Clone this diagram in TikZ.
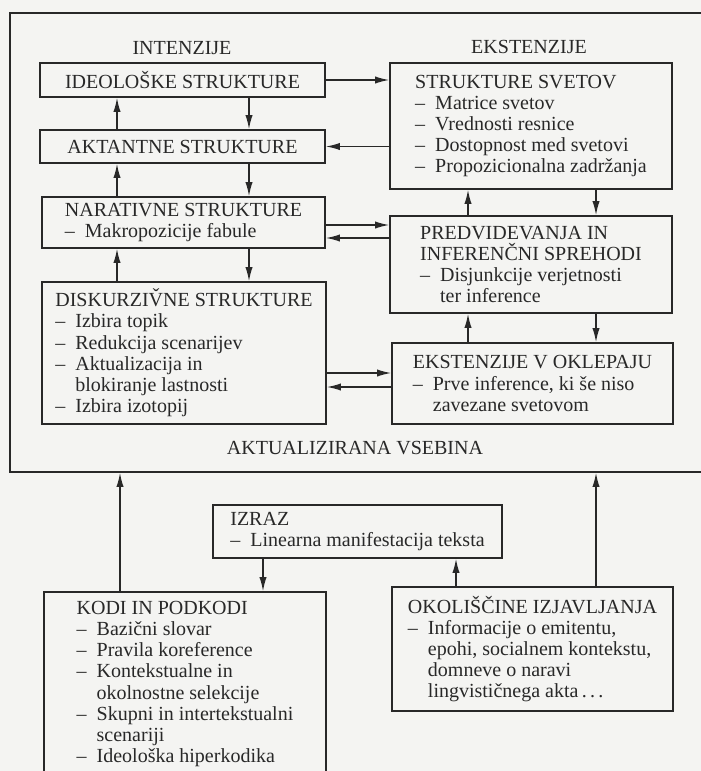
\documentclass[tikz,border=0pt]{standalone}
\usepackage{fontspec}
\setmainfont{Liberation Serif}
\usepackage{tikz}
\usetikzlibrary{arrows.meta}
\definecolor{paper}{RGB}{244, 244, 242}
\definecolor{ink}{RGB}{40, 40, 40}
\newcommand{\crta}{\makebox[1em][l]{--}}
\newcommand{\dalje}{\hspace*{1em}}

\begin{document}
\begin{tikzpicture}[
    x=0.5pt, y=-0.5pt,
    box/.style={rectangle, draw=ink, line width=0.85pt, align=left, inner sep=0pt, text=ink, font=\fontsize{10}{10.6}\selectfont},
    lbl/.style={text=ink, font=\fontsize{10}{12}\selectfont},
    arrow/.style={-{Latex[length=7pt, width=3.6pt]}, line width=0.65pt, draw=ink}
]
    \useasboundingbox (0,0) rectangle (701,771);
    \fill[paper] (0,0) rectangle (701,771);
    \clip (0,0) rectangle (701,771);

    % Frame: actualized content
    \node[box, minimum width=351pt, minimum height=229.5pt] (frame) at (361,242.5) {};
    \node[lbl] (intenz) at (182,48) {INTENZIJE};
    \node[lbl] (ekstenz) at (529,47) {EKSTENZIJE};
    \node[lbl] (vsebina) at (355,448) {AKTUALIZIRANA VSEBINA};

    % Left column: intensions
    \node[box, minimum width=142.5pt, minimum height=17pt] (ideol) at (182.5,80) {IDEOLOŠKE STRUKTURE};
    \node[box, minimum width=142.5pt, minimum height=16.5pt] (aktant) at (182.5,146.5) {AKTANTNE STRUKTURE};
    \node[box, minimum width=141.5pt, minimum height=25.5pt] (narat) at (183.5,222.5) {NARATIVNE STRUKTURE\\\crta Makropozicije fabule};
    \node[box, minimum width=142pt, minimum height=71pt] (diskurz) at (184,353) {DISKURZI\v{V}NE STRUKTURE\\\crta Izbira topik\\\crta Redukcija scenarijev\\\crta Aktualizacija in\\\dalje blokiranje lastnosti\\\crta Izbira izotopij};

    % Right column: extensions
    \node[box, minimum width=141pt, minimum height=63pt] (svetov) at (531,126) {STRUKTURE SVETOV\\\crta Matrice svetov\\\crta Vrednosti resnice\\\crta Dostopnost med svetovi\\\crta Propozicionalna zadržanja};
    \node[box, minimum width=141pt, minimum height=48.5pt] (predv) at (531,264.5) {PREDVIDEVANJA IN\\INFERENČNI SPREHODI\\\crta Disjunkcije verjetnosti\\\dalje ter inference};
    \node[box, minimum width=140.5pt, minimum height=40.5pt] (okl) at (532.5,383.5) {EKSTENZIJE V OKLEPAJU\\\crta Prve inference, ki še niso\\\dalje zavezane svetovom};

    % Bottom: expression, codes, circumstances
    \node[box, minimum width=144.5pt, minimum height=26.5pt] (izraz) at (357.5,531.5) {IZRAZ\\\crta Linearna manifestacija teksta};
    \node[box, minimum width=141pt, minimum height=92pt] (kodi) at (185,684) {KODI IN PODKODI\\\crta Bazični slovar\\\crta Pravila koreference\\\crta Kontekstualne in\\\dalje okolnostne selekcije\\\crta Skupni in intertekstualni\\\dalje scenariji\\\crta Ideološka hiperkodika};
    \node[box, minimum width=140.5pt, minimum height=62pt] (okol) at (532.5,649) {OKOLIŠČINE IZJAVLJANJA\\\crta Informacije o emitentu,\\\dalje epohi, socialnem kontekstu,\\\dalje domneve o naravi\\\dalje lingvističnega akta\,.\,.\,.};

    % Lanes
    \coordinate (lup) at (117,0);
    \coordinate (ldn) at (249,0);
    \coordinate (rup) at (468,0);
    \coordinate (rdn) at (596,0);
    \coordinate (h1) at (0,225);
    \coordinate (h2) at (0,238);
    \coordinate (h3) at (0,373);
    \coordinate (h4) at (0,387);
    \coordinate (bk) at (120,0);
    \coordinate (bi) at (263,0);
    \coordinate (bo) at (456,0);
    \coordinate (bf) at (596,0);

    % Arrows: left column
    \draw[arrow] (aktant.north -| lup) -- (ideol.south -| lup);
    \draw[arrow] (ideol.south -| ldn) -- (aktant.north -| ldn);
    \draw[arrow] (narat.north -| lup) -- (aktant.south -| lup);
    \draw[arrow] (aktant.south -| ldn) -- (narat.north -| ldn);
    \draw[arrow] (diskurz.north -| lup) -- (narat.south -| lup);
    \draw[arrow] (narat.south -| ldn) -- (diskurz.north -| ldn);

    % Arrows: right column
    \draw[arrow] (predv.north -| rup) -- (svetov.south -| rup);
    \draw[arrow] (svetov.south -| rdn) -- (predv.north -| rdn);
    \draw[arrow] (okl.north -| rup) -- (predv.south -| rup);
    \draw[arrow] (predv.south -| rdn) -- (okl.north -| rdn);

    % Arrows: across
    \draw[arrow] (ideol.east) -- (ideol.east -| svetov.west);
    \draw[arrow] (aktant.east -| svetov.west) -- (aktant.east);
    \draw[arrow] (narat.east |- h1) -- (predv.west |- h1);
    \draw[arrow] (predv.west |- h2) -- (narat.east |- h2);
    \draw[arrow] (diskurz.east |- h3) -- (okl.west |- h3);
    \draw[arrow] (okl.west |- h4) -- (diskurz.east |- h4);

    % Arrows: bottom
    \draw[arrow] (kodi.north -| bk) -- (frame.south -| bk);
    \draw[arrow] (izraz.south -| bi) -- (kodi.north -| bi);
    \draw[arrow] (okol.north -| bo) -- (izraz.south -| bo);
    \draw[arrow] (okol.north -| bf) -- (frame.south -| bf);
\end{tikzpicture}
\end{document}
